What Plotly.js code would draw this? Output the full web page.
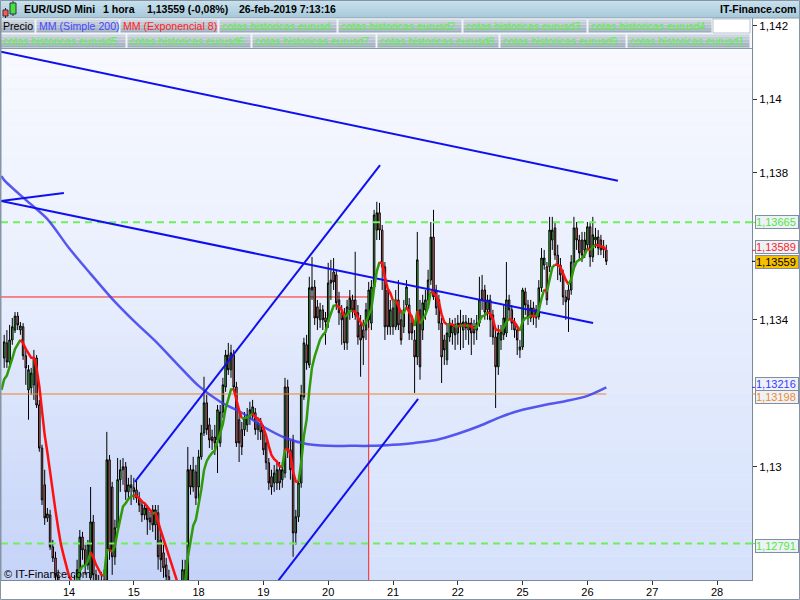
<!DOCTYPE html>
<html>
<head>
<meta charset="utf-8">
<script src="https://cdn.plot.ly/plotly-3.0.1.min.js"></script>
<style>
  html, body { margin: 0; padding: 0; background: #ffffff; }
  #chart { width: 800px; height: 600px; }
</style>
</head>
<body>
<div id="chart"></div>
<script>
// ---------------- EUR/USD Mini, 1 hour candles, 13-feb-2019 00:00 .. 26-feb-2019 07:00 ----------------
const opens = [
1.13296,1.13337,1.13285,1.13345,1.13372,1.13410,1.13372,1.13381,1.13302,1.13209,1.13215,1.13223,1.13296,1.13168,1.13051,1.12951,1.12861,1.12869,1.12782,1.12752,1.12706,1.12665,1.12638,1.12652,
1.12624,1.12611,1.12638,1.12665,1.12706,1.12809,1.12774,1.12733,1.12698,1.12850,1.12706,1.12665,1.12679,1.12652,1.12692,1.13019,1.12945,1.12755,1.12834,1.12965,1.12992,1.13000,1.12932,1.12951,
1.12943,1.12937,1.12915,1.12896,1.12869,1.12888,1.12861,1.12883,1.12842,1.12875,1.12801,1.12766,1.12733,1.12701,1.12665,1.12638,1.12652,1.12611,1.12638,1.12720,1.12692,1.12992,1.12945,1.12986,
1.12945,1.13027,1.13092,1.13174,1.13114,1.13081,1.13081,1.13073,1.13065,1.13149,1.13217,1.13304,1.13264,1.13304,1.13217,1.13128,1.13101,1.13101,1.13114,1.13133,1.13141,1.13147,1.13101,1.13119,
1.13101,1.13065,1.13011,1.12973,1.12956,1.12956,1.12992,1.12965,1.12983,1.13217,1.13046,1.13073,1.12820,1.12864,1.12956,1.13190,1.13332,1.13277,1.13481,1.13489,1.13435,1.13400,1.13427,1.13405,
1.13394,1.13508,1.13530,1.13522,1.13454,1.13419,1.13419,1.13337,1.13427,1.13454,1.13454,1.13419,1.13386,1.13372,1.13372,1.13400,1.13391,1.13489,1.13644,1.13691,1.13644,1.13544,1.13481,1.13381,
1.13432,1.13381,1.13454,1.13400,1.13381,1.13440,1.13440,1.13391,1.13345,1.13299,1.13427,1.13372,1.13427,1.13454,1.13508,1.13625,1.13481,1.13454,1.13391,1.13345,1.13291,1.13353,1.13364,1.13386,
1.13364,1.13391,1.13372,1.13394,1.13372,1.13391,1.13381,1.13372,1.13391,1.13481,1.13481,1.13427,1.13454,1.13413,1.13353,1.13272,1.13345,1.13359,1.13364,1.13454,1.13427,1.13391,1.13372,1.13318,
1.13326,1.13476,1.13440,1.13405,1.13432,1.13427,1.13408,1.13487,1.13549,1.13544,1.13544,1.13617,1.13650,1.13576,1.13549,1.13522,1.13462,1.13481,1.13481,1.13557,1.13650,1.13617,1.13617,1.13590,
1.13604,1.13653,1.13571,1.13617,1.13625,1.13617,1.13595,1.13590
];
const highs = [
1.13359,1.13372,1.13386,1.13405,1.13421,1.13421,1.13394,1.13391,1.13318,1.13277,1.13269,1.13318,1.13304,1.13182,1.13060,1.12992,1.12888,1.12883,1.12801,1.12769,1.12720,1.12692,1.12679,1.12671,
1.12652,1.12665,1.12706,1.12747,1.12828,1.12823,1.12788,1.12801,1.12945,1.12869,1.12720,1.12706,1.12714,1.12720,1.13095,1.13032,1.12959,1.12856,1.13024,1.13019,1.13024,1.13013,1.12970,1.12978,
1.12970,1.12965,1.12932,1.12910,1.12902,1.12896,1.12877,1.12896,1.12896,1.12896,1.12828,1.12788,1.12752,1.12720,1.12692,1.12679,1.12679,1.12665,1.12747,1.12747,1.13054,1.13005,1.13027,1.13005,
1.13046,1.13114,1.13245,1.13196,1.13133,1.13101,1.13114,1.13168,1.13168,1.13242,1.13318,1.13337,1.13332,1.13318,1.13231,1.13149,1.13122,1.13149,1.13160,1.13177,1.13182,1.13160,1.13133,1.13133,
1.13114,1.13079,1.13024,1.12992,1.13005,1.13013,1.13013,1.13013,1.13242,1.13237,1.13073,1.13087,1.12883,1.12970,1.13223,1.13351,1.13359,1.13517,1.13571,1.13508,1.13454,1.13446,1.13440,1.13421,
1.13555,1.13563,1.13568,1.13536,1.13476,1.13440,1.13432,1.13454,1.13481,1.13468,1.13585,1.13440,1.13413,1.13400,1.13446,1.13503,1.13508,1.13699,1.13721,1.13718,1.13658,1.13557,1.13495,1.13454,
1.13454,1.13481,1.13508,1.13427,1.13454,1.13508,1.13459,1.13413,1.13372,1.13639,1.13454,1.13468,1.13481,1.13536,1.13666,1.13699,1.13495,1.13468,1.13405,1.13359,1.13386,1.13405,1.13400,1.13405,
1.13413,1.13427,1.13413,1.13413,1.13405,1.13405,1.13400,1.13413,1.13517,1.13522,1.13495,1.13468,1.13468,1.13427,1.13372,1.13386,1.13386,1.13440,1.13557,1.13468,1.13440,1.13405,1.13386,1.13345,
1.13487,1.13487,1.13454,1.13454,1.13449,1.13440,1.13508,1.13595,1.13590,1.13557,1.13680,1.13680,1.13666,1.13604,1.13568,1.13536,1.13481,1.13495,1.13576,1.13680,1.13666,1.13631,1.13639,1.13639,
1.13666,1.13666,1.13680,1.13650,1.13644,1.13631,1.13617,1.13604
];
const lows = [
1.13269,1.13269,1.13277,1.13332,1.13364,1.13372,1.13359,1.13291,1.13223,1.13128,1.13196,1.13182,1.13160,1.13041,1.12896,1.12842,1.12850,1.12774,1.12741,1.12687,1.12638,1.12611,1.12611,1.12597,
1.12584,1.12584,1.12624,1.12643,1.12692,1.12747,1.12706,1.12720,1.12687,1.12679,1.12638,1.12624,1.12611,1.12638,1.12679,1.12747,1.12706,1.12733,1.12823,1.12932,1.12951,1.12910,1.12910,1.12896,
1.12910,1.12902,1.12877,1.12850,1.12856,1.12815,1.12828,1.12823,1.12801,1.12720,1.12714,1.12698,1.12679,1.12638,1.12605,1.12597,1.12584,1.12570,1.12611,1.12652,1.12679,1.12924,1.12932,1.12896,
1.12910,1.13019,1.13084,1.13087,1.13051,1.13046,1.13032,1.12983,1.13054,1.13133,1.13204,1.13250,1.13242,1.13204,1.13054,1.13013,1.13032,1.13084,1.13095,1.13114,1.13128,1.13087,1.13073,1.13073,
1.13032,1.12992,1.12937,1.12924,1.12932,1.12937,1.12937,1.12943,1.12970,1.13024,1.12965,1.12755,1.12788,1.12850,1.12943,1.13182,1.13264,1.13269,1.13454,1.13386,1.13372,1.13378,1.13372,1.13332,
1.13378,1.13454,1.13481,1.13427,1.13386,1.13332,1.13318,1.13318,1.13400,1.13405,1.13400,1.13332,1.13245,1.13277,1.13345,1.13378,1.13372,1.13481,1.13617,1.13617,1.13481,1.13345,1.13359,1.13359,
1.13359,1.13372,1.13372,1.13332,1.13364,1.13427,1.13345,1.13345,1.13201,1.13277,1.13237,1.13345,1.13400,1.13440,1.13495,1.13454,1.13413,1.13372,1.13228,1.13277,1.13277,1.13340,1.13332,1.13318,
1.13332,1.13318,1.13323,1.13345,1.13332,1.13304,1.13332,1.13345,1.13381,1.13427,1.13400,1.13400,1.13353,1.13332,1.13160,1.13250,1.13318,1.13345,1.13353,1.13400,1.13372,1.13351,1.13304,1.13296,
1.13318,1.13413,1.13386,1.13394,1.13386,1.13378,1.13400,1.13476,1.13536,1.13440,1.13530,1.13590,1.13563,1.13508,1.13503,1.13440,1.13400,1.13367,1.13468,1.13546,1.13590,1.13563,1.13557,1.13568,
1.13590,1.13544,1.13557,1.13595,1.13576,1.13576,1.13568,1.13549
];
const closes = [
1.13340,1.13285,1.13345,1.13381,1.13410,1.13386,1.13383,1.13302,1.13269,1.13264,1.13255,1.13296,1.13168,1.13051,1.12910,1.12861,1.12872,1.12782,1.12752,1.12706,1.12665,1.12638,1.12652,1.12624,
1.12611,1.12638,1.12665,1.12720,1.12809,1.12774,1.12733,1.12788,1.12850,1.12706,1.12665,1.12679,1.12652,1.12692,1.13019,1.12774,1.12755,1.12834,1.12965,1.12992,1.13000,1.12932,1.12951,1.12943,
1.12932,1.12915,1.12896,1.12869,1.12888,1.12856,1.12850,1.12842,1.12883,1.12755,1.12747,1.12725,1.12701,1.12665,1.12638,1.12652,1.12611,1.12638,1.12720,1.12679,1.12992,1.12945,1.12992,1.12915,
1.13027,1.13092,1.13174,1.13101,1.13073,1.13071,1.13065,1.13155,1.13149,1.13223,1.13304,1.13264,1.13310,1.13217,1.13065,1.13065,1.13054,1.13133,1.13141,1.13155,1.13163,1.13101,1.13119,1.13095,
1.13046,1.13011,1.12956,1.12945,1.12983,1.12992,1.12956,1.12992,1.13217,1.13046,1.12992,1.12820,1.12864,1.12956,1.13196,1.13337,1.13283,1.13487,1.13489,1.13405,1.13405,1.13427,1.13400,1.13394,
1.13500,1.13500,1.13503,1.13446,1.13419,1.13400,1.13337,1.13435,1.13459,1.13427,1.13413,1.13353,1.13345,1.13351,1.13427,1.13481,1.13489,1.13685,1.13691,1.13644,1.13544,1.13381,1.13381,1.13427,
1.13381,1.13454,1.13386,1.13345,1.13427,1.13489,1.13364,1.13364,1.13299,1.13563,1.13272,1.13446,1.13454,1.13508,1.13625,1.13462,1.13432,1.13391,1.13299,1.13318,1.13364,1.13391,1.13386,1.13359,
1.13391,1.13381,1.13394,1.13378,1.13391,1.13364,1.13364,1.13391,1.13454,1.13454,1.13421,1.13454,1.13400,1.13353,1.13272,1.13364,1.13367,1.13405,1.13454,1.13427,1.13391,1.13372,1.13345,1.13326,
1.13481,1.13440,1.13405,1.13432,1.13408,1.13405,1.13487,1.13568,1.13568,1.13454,1.13644,1.13644,1.13576,1.13549,1.13522,1.13462,1.13449,1.13454,1.13557,1.13650,1.13617,1.13582,1.13576,1.13617,
1.13653,1.13571,1.13631,1.13625,1.13595,1.13590,1.13591,1.13559
];

// trading-day labels of the time axis (24 hourly candles per day, weekend skipped)
const dayLabels = ['14', '15', '18', '19', '20', '21', '22', '25', '26', '27', '28'];

// MM (Simple 200) sampled on the hourly index
const smaHours  = [-1, 0, 8, 16, 24, 32, 40, 48, 56, 64, 72, 80, 88, 96, 104, 112, 120, 128, 136, 144, 152, 160, 168, 176, 184, 192, 200, 208, 216, 223];
const smaValues = [1.13791, 1.13780, 1.13726, 1.13674, 1.13595, 1.13525, 1.13457, 1.13397, 1.13342, 1.13280, 1.13220, 1.13177, 1.13147, 1.13109, 1.13079, 1.13062, 1.13057, 1.13057, 1.13057, 1.13060, 1.13065, 1.13073, 1.13090, 1.13111, 1.13136, 1.13155, 1.13168, 1.13179, 1.13193, 1.13216];

// MM (Exponencial 8): period and value carried in from the previous hour
const emaPeriod = 8;
const emaSeed = 1.13209;

// drawn trend lines: [hour, price] end points
const lineFallTop   = [[-1.2, 1.14129], [227.3, 1.13778]];
const lineFallMid   = [[-1.2, 1.13723], [218.1, 1.13391]];
const lineShort     = [[-1.2, 1.13723], [22.1, 1.13745]];
const channelUpper  = [[48.4, 1.12959], [139.2, 1.13821]];
const channelLower  = [[99.2, 1.12668], [153.3, 1.13185]];

// horizontal levels
const histLevels = [1.13665, 1.12791];     // "cotas historicas"
const orangeLevel = 1.13198;
const cursorHour = 135, cursorPrice = 1.13462;

// ---------------- helpers ----------------
const FONT = 'Liberation Sans, Arial, sans-serif';
const PL = 1, PR = 752, PT = 18, PB = 580;           // plot box on the page
const px = x => (x - PL) / (PR - PL);
const py = y => (PB - y) / (PB - PT);
const fmt = v => v.toFixed(5).replace('.', ',');
const lerp = (a, b, t) => Math.round(a + (b - a) * t);
const mix = (c1, c2, t) => `rgb(${lerp(c1[0], c2[0], t)},${lerp(c1[1], c2[1], t)},${lerp(c1[2], c2[2], t)})`;

const hours = closes.map((_, i) => i);
const lastHour = hours[hours.length - 1];
const X0 = -1.185, X1 = 276.96, Y0 = 1.12692, Y1 = 1.14221;

// ---------------- EMA ----------------
const kEma = 2 / (emaPeriod + 1);
const emaX = [-1], emaY = [emaSeed];
closes.forEach((c, i) => {
  const prev = emaY[emaY.length - 1];
  emaX.push(i);
  emaY.push(prev + kEma * (c - prev));
});
const emaLast = emaY[emaY.length - 1];

const traces = [];

// candles
traces.push({
  type: 'candlestick', x: hours, open: opens, high: highs, low: lows, close: closes,
  increasing: { line: { color: '#000000', width: 1 }, fillcolor: '#3fcf3f' },
  decreasing: { line: { color: '#000000', width: 1 }, fillcolor: '#ee7a72' },
  hoverinfo: 'skip', showlegend: false
});

// orange level
traces.push({ type: 'scatter', mode: 'lines', x: [X0, lastHour], y: [orangeLevel, orangeLevel],
  line: { color: '#e8862a', width: 1 }, hoverinfo: 'skip' });

// historic levels (dashed)
histLevels.forEach(v => traces.push({ type: 'scatter', mode: 'lines', x: [X0, X1], y: [v, v],
  line: { color: '#6ef05a', width: 2, dash: '7px,5px' }, hoverinfo: 'skip' }));

// SMA 200
traces.push({ type: 'scatter', mode: 'lines', x: smaHours, y: smaValues,
  line: { color: 'rgba(60,60,235,0.85)', width: 2.5, shape: 'spline', smoothing: 0.8 }, hoverinfo: 'skip' });

// trend lines
[lineFallTop, lineFallMid, lineShort, channelUpper, channelLower].forEach(l => traces.push({
  type: 'scatter', mode: 'lines', x: l.map(p => p[0]), y: l.map(p => p[1]),
  line: { color: '#1010ee', width: 2 }, hoverinfo: 'skip' }));

// EMA 8 : green while rising, red while falling
let run = null;
for (let i = 1; i < emaY.length; i++) {
  const col = emaY[i] >= emaY[i - 1] ? '#2f9a0a' : '#ff1010';
  if (!run || run.col !== col) {
    if (run) traces.push({ type: 'scatter', mode: 'lines', x: run.x, y: run.y, line: { color: run.col, width: 2.5 }, hoverinfo: 'skip' });
    run = { col, x: [emaX[i - 1]], y: [emaY[i - 1]] };
  }
  run.x.push(emaX[i]); run.y.push(emaY[i]);
}
traces.push({ type: 'scatter', mode: 'lines', x: run.x, y: run.y, line: { color: run.col, width: 2.5 }, hoverinfo: 'skip' });

// ---------------- shapes ----------------
const shapes = [];
// plot background gradient
const bgTop = [250, 251, 255], bgBot = [213, 225, 251];
const NB = 48;
for (let b = 0; b < NB; b++) {
  shapes.push({ type: 'rect', xref: 'paper', yref: 'paper', x0: 0, x1: 1,
    y0: 1 - (b + 1) / NB, y1: 1 - b / NB, fillcolor: mix(bgTop, bgBot, (b + 0.5) / NB),
    line: { width: 0 }, layer: 'below' });
}
// cursor region shading
const NR = 24;
for (let b = 0; b < NR; b++) {
  const p1 = cursorPrice - (cursorPrice - Y0) * b / NR;
  const p0 = cursorPrice - (cursorPrice - Y0) * (b + 1) / NR;
  shapes.push({ type: 'rect', xref: 'x', yref: 'y', x0: X0, x1: cursorHour, y0: p0, y1: p1,
    fillcolor: `rgba(90,120,230,${(0.13 * (b + 0.5) / NR).toFixed(3)})`, line: { width: 0 }, layer: 'below' });
}
// cursor lines
shapes.push({ type: 'line', xref: 'x', yref: 'y', x0: X0, x1: cursorHour, y0: cursorPrice, y1: cursorPrice, line: { color: '#ff2020', width: 1 }, layer: 'below' });
shapes.push({ type: 'line', xref: 'x', yref: 'y', x0: cursorHour, x1: cursorHour, y0: cursorPrice, y1: Y0, line: { color: '#ff2020', width: 1 }, layer: 'below' });

// header: title bar
const hdrTop = [202, 226, 238], hdrBot = [166, 200, 216];
for (let b = 0; b < 6; b++) {
  shapes.push({ type: 'rect', xref: 'paper', yref: 'paper', x0: px(0), x1: px(800),
    y0: py(3 * (b + 1)), y1: py(3 * b), fillcolor: mix(hdrTop, hdrBot, (b + 0.5) / 6), line: { width: 0 }, layer: 'above' });
}
shapes.push({ type: 'line', xref: 'paper', yref: 'paper', x0: px(0), x1: px(800), y0: py(18), y1: py(18), line: { color: '#8a9cac', width: 1 }, layer: 'above' });

// header: legend cells
const cellTop = [210, 218, 226], cellBot = [152, 168, 184];
const row2Cells = [[0, 35], [36, 119], [120, 218], [219, 337], [338, 462], [463, 587], [588, 712]];
const row3Cells = [[0, 126], [127, 251], [252, 376], [377, 499], [500, 626], [627, 750]];
function cell(x0, x1, yTop, yBot) {
  const n = 5, h = (yBot - yTop) / n;
  for (let b = 0; b < n; b++) {
    shapes.push({ type: 'rect', xref: 'paper', yref: 'paper', x0: px(x0), x1: px(x1),
      y0: py(yTop + h * (b + 1)), y1: py(yTop + h * b), fillcolor: mix(cellTop, cellBot, (b + 0.5) / n), line: { width: 0 }, layer: 'above' });
  }
  shapes.push({ type: 'rect', xref: 'paper', yref: 'paper', x0: px(x0), x1: px(x1), y0: py(yBot), y1: py(yTop),
    line: { color: '#eef3f8', width: 1 }, layer: 'above' });
}
row2Cells.forEach(c => cell(c[0], c[1], 19, 33));
row3Cells.forEach(c => cell(c[0], c[1], 34, 48));
shapes.push({ type: 'rect', xref: 'paper', yref: 'paper', x0: px(713), x1: px(750), y0: py(33), y1: py(19),
  fillcolor: '#ffffff', line: { color: '#b8c4d0', width: 1 }, layer: 'above' });
shapes.push({ type: 'line', xref: 'paper', yref: 'paper', x0: px(0), x1: px(752), y0: py(48.5), y1: py(48.5), line: { color: '#8a9cac', width: 1 }, layer: 'above' });

// header icon (two small candles)
shapes.push({ type: 'line', xref: 'paper', yref: 'paper', x0: px(5.5), x1: px(5.5), y0: py(18), y1: py(8), line: { color: '#222', width: 1 }, layer: 'above' });
shapes.push({ type: 'rect', xref: 'paper', yref: 'paper', x0: px(3), x1: px(8), y0: py(16), y1: py(10), fillcolor: '#ff5a5a', line: { color: '#333', width: 1 }, layer: 'above' });
shapes.push({ type: 'line', xref: 'paper', yref: 'paper', x0: px(13), x1: px(13), y0: py(16), y1: py(1), line: { color: '#222', width: 1 }, layer: 'above' });
shapes.push({ type: 'rect', xref: 'paper', yref: 'paper', x0: px(10), x1: px(16), y0: py(14), y1: py(3), fillcolor: '#44e044', line: { color: '#333', width: 1 }, layer: 'above' });

// page frame
shapes.push({ type: 'rect', xref: 'paper', yref: 'paper', x0: px(0.5), x1: px(799.5), y0: py(599.5), y1: py(0.5),
  line: { color: '#8595a5', width: 1 }, layer: 'above' });
shapes.push({ type: 'line', xref: 'paper', yref: 'paper', x0: px(0.5), x1: px(0.5), y0: py(580), y1: py(18), line: { color: '#8595a5', width: 2 }, layer: 'above' });

// ---------------- annotations ----------------
const annotations = [];
const hdr = (x, y, text, color, size, anchor) => annotations.push({
  xref: 'paper', yref: 'paper', x: px(x), y: py(y), xanchor: anchor || 'left', yanchor: 'middle',
  text, showarrow: false, font: { family: FONT, size: size || 11, color: color || '#000' }, borderpad: 0 });

hdr(23, 9.5, '<b>EUR/USD Mini</b>', '#000', 10.5);
hdr(102, 9.5, '<b>1 hora</b>', '#000', 10.5);
hdr(146, 9.5, '<b>' + fmt(closes[closes.length - 1]) + ' (-0,08%)</b>', '#000', 10.5);
hdr(238, 9.5, '<b>26-feb-2019 7:13:16</b>', '#000', 10.5);
hdr(797, 9.5, '<b>IT-Finance.com</b>', '#000', 10.5, 'right');

const G = '#5cf046';
const row2Text = [['Precio', '#000000'], ['MM (Simple 200)', '#4848ff'], ['MM (Exponencial 8)', '#ff2424'],
  ['cotas historicas eurusd', G], ['cotas historicas eurusd2', G], ['cotas historicas eurusd3', G], ['cotas historicas eurusd4', G]];
const row3Text = ['cotas historicas eurusd5', 'cotas historicas eurusd6', 'cotas historicas eurusd7',
  'cotas historicas eurusd8', 'cotas historicas eurusd9', 'cotas historicas eurusd1'];
row2Text.forEach((t, i) => hdr(row2Cells[i][0] + 2, 26.5, t[0], t[1], 10.6));
row3Text.forEach((t, i) => hdr(row3Cells[i][0] + 2, 41.5, t, G, 10.6));

annotations.push({ xref: 'paper', yref: 'paper', x: px(3), y: py(574), xanchor: 'left', yanchor: 'middle',
  text: '© IT-Finance.com', showarrow: false, font: { family: FONT, size: 11, color: '#000' }, borderpad: 0 });

// value boxes on the price axis (nudged apart where they would collide)
const boxes = [
  [histLevels[0], '#4ee83a', '#eef2f8', 0],
  [emaLast, '#ff1a1a', '#eef2f8', 3],
  [closes[closes.length - 1], '#000000', '#f6c000', -1],
  [smaValues[smaValues.length - 1], '#3a3aff', '#eef2f8', 3],
  [orangeLevel, '#f08a28', '#eef2f8', -3],
  [histLevels[1], '#4ee83a', '#eef2f8', -2]
];
boxes.forEach(b => {
  annotations.push({ xref: 'paper', yref: 'y', x: px(755), y: b[0], yshift: b[3], xanchor: 'left', yanchor: 'middle',
    text: fmt(b[0]), showarrow: false, font: { family: FONT, size: 11, color: b[1] },
    bgcolor: b[2], bordercolor: '#7d8fa0', borderwidth: 1, borderpad: 0, width: 42, height: 12, align: 'left' });
  shapes.push({ type: 'line', xref: 'paper', yref: 'y', x0: px(752), x1: px(756), y0: b[0], y1: b[0],
    line: { color: b[1], width: 1 }, layer: 'above' });
});

// ---------------- layout ----------------
const layout = {
  width: 800, height: 600,
  margin: { l: PL, r: 800 - PR, t: PT, b: 600 - PB, pad: 0 },
  paper_bgcolor: '#ffffff', plot_bgcolor: '#e9eefc',
  showlegend: false, separators: ',.', boxgap: 0.2,
  font: { family: FONT, size: 11, color: '#000' },
  xaxis: {
    range: [X0, X1], rangeslider: { visible: false },
    tickvals: dayLabels.map((_, k) => 24 * (k + 1)), ticktext: dayLabels,
    ticks: 'outside', ticklen: 4, tickcolor: '#333', showgrid: false, zeroline: false,
    showline: true, linecolor: '#7a8a9a', linewidth: 1, fixedrange: true, ticklabelstandoff: -2,
    tickfont: { family: FONT, size: 11, color: '#000' }
  },
  yaxis: {
    side: 'right', range: [Y0, Y1],
    tickvals: [1.13, 1.134, 1.138, 1.14, 1.142], ticktext: ['1,13', '1,134', '1,138', '1,14', '1,142'],
    ticks: 'outside', ticklen: 4, tickcolor: '#333', showgrid: false, zeroline: false,
    showline: true, linecolor: '#7a8a9a', linewidth: 1, fixedrange: true,
    tickfont: { family: FONT, size: 11.5, color: '#000' }
  },
  shapes, annotations
};

Plotly.newPlot('chart', traces, layout, { staticPlot: true, displayModeBar: false });
</script>
</body>
</html>
